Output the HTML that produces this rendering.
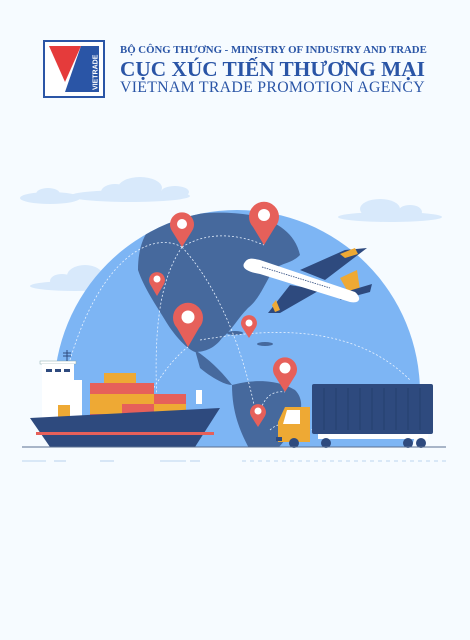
<!DOCTYPE html>
<html><head><meta charset="utf-8"><style>
html,body{margin:0;padding:0;background:#f6fbff;}
#root{position:relative;width:470px;height:640px;overflow:hidden;background:#f6fbff;font-family:"Liberation Serif",serif;}
.t{position:absolute;left:120px;color:#2a55a6;white-space:nowrap;}
</style></head><body>
<div id="root">
<svg style="position:absolute;left:43px;top:40px" width="62" height="58" viewBox="0 0 62 58">
<rect x="1" y="1" width="60" height="56" fill="#fff" stroke="#2a55a6" stroke-width="2"/>
<polygon points="6,6 38,6 22,42" fill="#e53b3b"/>
<polygon points="38,6 48,6 48,52 22,52" fill="#2a55a6"/>
<rect x="48" y="6" width="8" height="46" fill="#2a55a6"/>
<text x="0" y="0" transform="translate(54.5,50) rotate(-90)" font-family="Liberation Sans" font-weight="bold" font-size="7" fill="#fff">VIETRADE</text>
</svg>
<div class="t" style="top:44px;font-size:10.8px;font-weight:bold;">BỘ CÔNG THƯƠNG - MINISTRY OF INDUSTRY AND TRADE</div>
<div class="t" style="top:57px;font-size:21.3px;font-weight:bold;">CỤC XÚC TIẾN THƯƠNG MẠI</div>
<div class="t" style="top:79px;font-size:15.8px;letter-spacing:0.3px">VIETNAM TRADE PROMOTION AGENCY</div>

<svg style="position:absolute;left:0;top:0" width="470" height="640" viewBox="0 0 470 640">
<defs><clipPath id="gc"><rect x="0" y="0" width="470" height="447"/></clipPath>
<clipPath id="gl"><circle cx="237" cy="393" r="183"/></clipPath></defs>
<g fill="#d8e9fb">
<ellipse cx="50" cy="198" rx="30" ry="6"/><ellipse cx="48" cy="194" rx="12" ry="6"/>
<ellipse cx="130" cy="196" rx="60" ry="6"/><ellipse cx="140" cy="188" rx="22" ry="11"/><ellipse cx="115" cy="192" rx="14" ry="8"/><ellipse cx="175" cy="192" rx="14" ry="6"/>
<ellipse cx="390" cy="217" rx="52" ry="5"/><ellipse cx="380" cy="209" rx="20" ry="10"/><ellipse cx="410" cy="212" rx="12" ry="7"/>
<ellipse cx="75" cy="286" rx="45" ry="5"/><ellipse cx="85" cy="276" rx="18" ry="11"/><ellipse cx="62" cy="281" rx="12" ry="7"/><ellipse cx="108" cy="281" rx="11" ry="6"/>
</g>
<g clip-path="url(#gc)">
<circle cx="237" cy="393" r="183" fill="#7db5f4"/>
<g clip-path="url(#gl)" fill="#46699d">
<path d="M150,228 C175,212 220,210 250,215 C275,220 295,232 300,255 C290,265 280,262 272,272 C262,290 258,300 248,308 C238,318 232,330 222,338 C215,348 205,352 195,352 C185,348 172,332 165,320 C156,305 144,288 138,270 C138,252 142,238 150,228Z"/>
<path d="M195,350 C210,360 222,372 232,385 C225,385 212,378 200,368Z"/>
<path d="M232,385 C250,380 275,378 295,390 C305,400 302,415 292,430 C282,445 270,460 255,460 C245,440 232,420 232,385Z"/>
<ellipse cx="235" cy="333" rx="8" ry="2"/><ellipse cx="265" cy="344" rx="8" ry="2"/>
</g>
<g fill="none" stroke="#e8f2ff" stroke-width="0.8" stroke-dasharray="2,2">
<path d="M70,360 C100,260 150,230 182,247"/><path d="M182,247 C210,230 240,235 264,245"/>
<path d="M182,247 C160,280 150,330 160,447"/><path d="M182,247 C230,300 250,380 258,425"/>
<path d="M258,425 C260,400 270,390 285,392"/><path d="M200,340 C260,330 350,320 410,380"/>
<path d="M130,447 C140,400 170,360 188,347"/><path d="M270,430 C280,420 300,420 330,440"/>
</g>
</g>
<g>
<g><path d="M182,247 L172,231 A12,12 0 1 1 192,231Z" fill="#e6605a"/><circle cx="182" cy="224" r="5" fill="#fff"/></g>
<g><path d="M264,245 L253,227 A15,15 0 1 1 275,227Z" fill="#e6605a"/><circle cx="264" cy="215" r="6" fill="#fff"/></g>
<g><path d="M157,296 L150,284 A8,8 0 1 1 164,284Z" fill="#e6605a"/><circle cx="157" cy="279" r="3.5" fill="#fff"/></g>
<g><path d="M188,347 L177,328 A15,15 0 1 1 199,328Z" fill="#e6605a"/><circle cx="188" cy="317" r="6.5" fill="#fff"/></g>
<g><path d="M249,338 L242,327 A8,8 0 1 1 256,327Z" fill="#e6605a"/><circle cx="249" cy="323" r="3.5" fill="#fff"/></g>
<g><path d="M285,392 L275,376 A12,12 0 1 1 295,376Z" fill="#e6605a"/><circle cx="285" cy="368" r="5.5" fill="#fff"/></g>
<g><path d="M258,427 L251,416 A8,8 0 1 1 265,416Z" fill="#e6605a"/><circle cx="258" cy="411" r="3.5" fill="#fff"/></g>
</g>
<g>
<polygon points="300,270 345,250 367,248 325,280" fill="#2e4a7e"/>
<polygon points="340,254 355,248 358,254 345,258" fill="#eea934"/>
<polygon points="290,285 268,313 280,313 320,290" fill="#2e4a7e"/>
<polygon points="272,305 276,300 280,310 275,312" fill="#eea934"/>
<polygon points="340,278 357,270 360,290 348,292" fill="#eea934"/>
<polygon points="345,292 372,284 370,292 340,300" fill="#2e4a7e"/>
<path d="M245,262 C240,268 248,272 260,274 L350,302 C360,304 362,298 355,292 L260,260 C252,258 248,258 245,262Z" fill="#fff"/>
<line x1="262" y1="267" x2="330" y2="288" stroke="#2e4a7e" stroke-width="0.8" stroke-dasharray="1.5,1"/>
</g>
<g>
<rect x="40" y="361" width="36" height="3" fill="#fff" stroke="#8aa" stroke-width="0.5"/>
<rect x="42" y="364" width="32" height="56" fill="#fff"/>
<rect x="42" y="380" width="40" height="40" fill="#fff"/>
<g fill="#2e4a7e"><rect x="46" y="369" width="6" height="3"/><rect x="55" y="369" width="6" height="3"/><rect x="64" y="369" width="6" height="3"/></g>
<line x1="67" y1="350" x2="67" y2="361" stroke="#2e4a7e" stroke-width="1"/>
<line x1="63" y1="353" x2="71" y2="353" stroke="#2e4a7e"/><line x1="63" y1="356" x2="71" y2="356" stroke="#2e4a7e"/>
<rect x="58" y="405" width="12" height="15" fill="#eea934"/>
<rect x="90" y="404" width="32" height="10" fill="#eea934"/>
<rect x="90" y="414" width="32" height="9" fill="#e6605a"/>
<rect x="90" y="383" width="64" height="11" fill="#e6605a"/><rect x="90" y="394" width="64" height="10" fill="#eea934"/>
<rect x="122" y="404" width="32" height="19" fill="#e6605a"/>
<rect x="104" y="373" width="32" height="10" fill="#eea934"/>
<rect x="154" y="394" width="32" height="10" fill="#e6605a"/><rect x="154" y="404" width="32" height="19" fill="#eea934"/>
<rect x="196" y="390" width="6" height="14" fill="#fff"/>
<path d="M30,418 L220,408 L195,447 L50,447Z" fill="#2e4a7e"/>
<rect x="36" y="432" width="178" height="3" fill="#e6605a"/>
</g>
<g>
<rect x="312" y="384" width="121" height="50" fill="#2e4a7e" rx="2"/>
<g stroke="#24406f" stroke-width="1">
<line x1="324" y1="388" x2="324" y2="430"/><line x1="336" y1="388" x2="336" y2="430"/><line x1="348" y1="388" x2="348" y2="430"/><line x1="360" y1="388" x2="360" y2="430"/><line x1="372" y1="388" x2="372" y2="430"/><line x1="384" y1="388" x2="384" y2="430"/><line x1="396" y1="388" x2="396" y2="430"/><line x1="408" y1="388" x2="408" y2="430"/><line x1="420" y1="388" x2="420" y2="430"/>
</g>
<rect x="318" y="434" width="110" height="5" fill="#fff"/>
<path d="M278,422 L285,407 L310,407 L310,442 L278,442Z" fill="#eea934"/>
<polygon points="287,410 300,410 300,424 283,424" fill="#fff"/>
<rect x="276" y="437" width="6" height="4" fill="#2e4a7e"/>
<circle cx="294" cy="443" r="5" fill="#2e4a7e"/><circle cx="326" cy="443" r="5" fill="#2e4a7e"/><circle cx="408" cy="443" r="5" fill="#2e4a7e"/><circle cx="421" cy="443" r="5" fill="#2e4a7e"/>
</g>
<line x1="22" y1="447" x2="446" y2="447" stroke="#5a6f90" stroke-width="1"/>
<g stroke="#a9c8ea" stroke-width="0.8">
<line x1="22" y1="461" x2="46" y2="461"/><line x1="54" y1="461" x2="66" y2="461"/><line x1="100" y1="461" x2="114" y2="461"/><line x1="160" y1="461" x2="186" y2="461"/><line x1="190" y1="461" x2="200" y2="461"/>
<line x1="242" y1="461" x2="448" y2="461" stroke-dasharray="4,4"/>
</g>
</svg>
</div>
</body></html>
